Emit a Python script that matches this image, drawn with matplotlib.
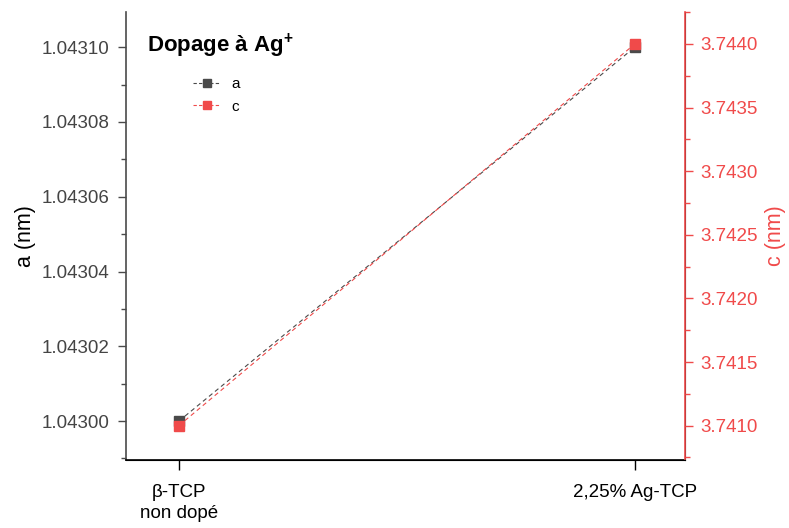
import matplotlib.pyplot as plt
from matplotlib.ticker import MultipleLocator, FormatStrFormatter
from matplotlib.lines import Line2D

plt.rcParams['font.family'] = ['Liberation Sans', 'DejaVu Sans']
plt.rcParams['mathtext.fontset'] = 'custom'
plt.rcParams['mathtext.rm'] = 'Liberation Sans'
plt.rcParams['mathtext.bf'] = 'Liberation Sans:bold'

# data
categories = ['\u03b2-TCP\nnon dop\u00e9', '2,25% Ag-TCP']
a_values = [1.04300, 1.04310]
c_values = [3.7410, 3.7440]

GRAY = '#4a4a4a'
RED = '#f04a4a'

fig = plt.figure(figsize=(7.89, 5.28), dpi=100)
ax = fig.add_axes([0.1597, 0.1288, 0.7085, 0.8485])
ax2 = ax.twinx()

x = list(range(len(categories)))
ax.plot(x, a_values, ls=(0, (4, 3)), lw=0.8, color=GRAY,
        marker='s', ms=6.5, mec=GRAY, mfc=GRAY)
ax2.plot(x, c_values, ls=(0, (4, 3)), lw=0.8, color=RED,
         marker='s', ms=6.5, mec=RED, mfc=RED)

ax.set_xlim(-0.116, 1.110)
ax.set_ylim(1.0429896, 1.0431094)
ax2.set_ylim(3.74073, 3.744251)

ax.set_xticks(x)
ax.set_xticklabels(categories, fontsize=13.5, color='black', linespacing=1.35)
ax.yaxis.set_major_locator(MultipleLocator(0.00002))
ax.yaxis.set_minor_locator(MultipleLocator(0.00001))
ax.yaxis.set_major_formatter(FormatStrFormatter('%.5f'))
ax2.yaxis.set_major_locator(MultipleLocator(0.0005))
ax2.yaxis.set_minor_locator(MultipleLocator(0.00025))
ax2.yaxis.set_major_formatter(FormatStrFormatter('%.4f'))

ax.tick_params(axis='y', which='both', direction='out', color=GRAY,
               labelcolor='#444444', labelsize=13.5, width=1, pad=6)
ax.tick_params(axis='y', which='major', length=6)
ax.tick_params(axis='y', which='minor', length=3.5)
ax.tick_params(axis='x', direction='out', length=7, width=1, color='black', pad=10)
ax2.tick_params(axis='y', which='both', direction='out', color=RED,
                labelcolor=RED, labelsize=13.5, width=1, pad=5)
ax2.tick_params(axis='y', which='major', length=6)
ax2.tick_params(axis='y', which='minor', length=3.5)

ax.spines['top'].set_visible(False)
ax2.spines['top'].set_visible(False)
ax.spines['left'].set_color(GRAY)
ax.spines['bottom'].set_color('black')
ax2.spines['right'].set_color(RED)
ax2.spines['left'].set_visible(False)
for s in ['left', 'bottom']:
    ax.spines[s].set_linewidth(1.2)
ax2.spines['right'].set_linewidth(1.2)

ax.set_ylabel('a (nm)', fontsize=15.5, color='black', labelpad=4)
ax2.set_ylabel('c (nm)', fontsize=15.5, color=RED, labelpad=5)

ax.text(0.037, 0.924, 'Dopage \u00e0 Ag$^{\\mathbf{+}}$', transform=ax.transAxes,
        fontsize=16, fontweight='bold', ha='left', va='center')

handles = [
    Line2D([], [], ls=(0, (3, 2)), lw=0.8, color=GRAY, marker='s', ms=6, mfc=GRAY, mec=GRAY),
    Line2D([], [], ls=(0, (3, 2)), lw=0.8, color=RED, marker='s', ms=6, mfc=RED, mec=RED),
]
ax.legend(handles, ['a', 'c'], loc='upper left', bbox_to_anchor=(0.095, 0.885),
          frameon=False, fontsize=11, handlelength=1.8, handletextpad=0.7,
          labelspacing=0.55)

fig.savefig('out.png', dpi=100)
